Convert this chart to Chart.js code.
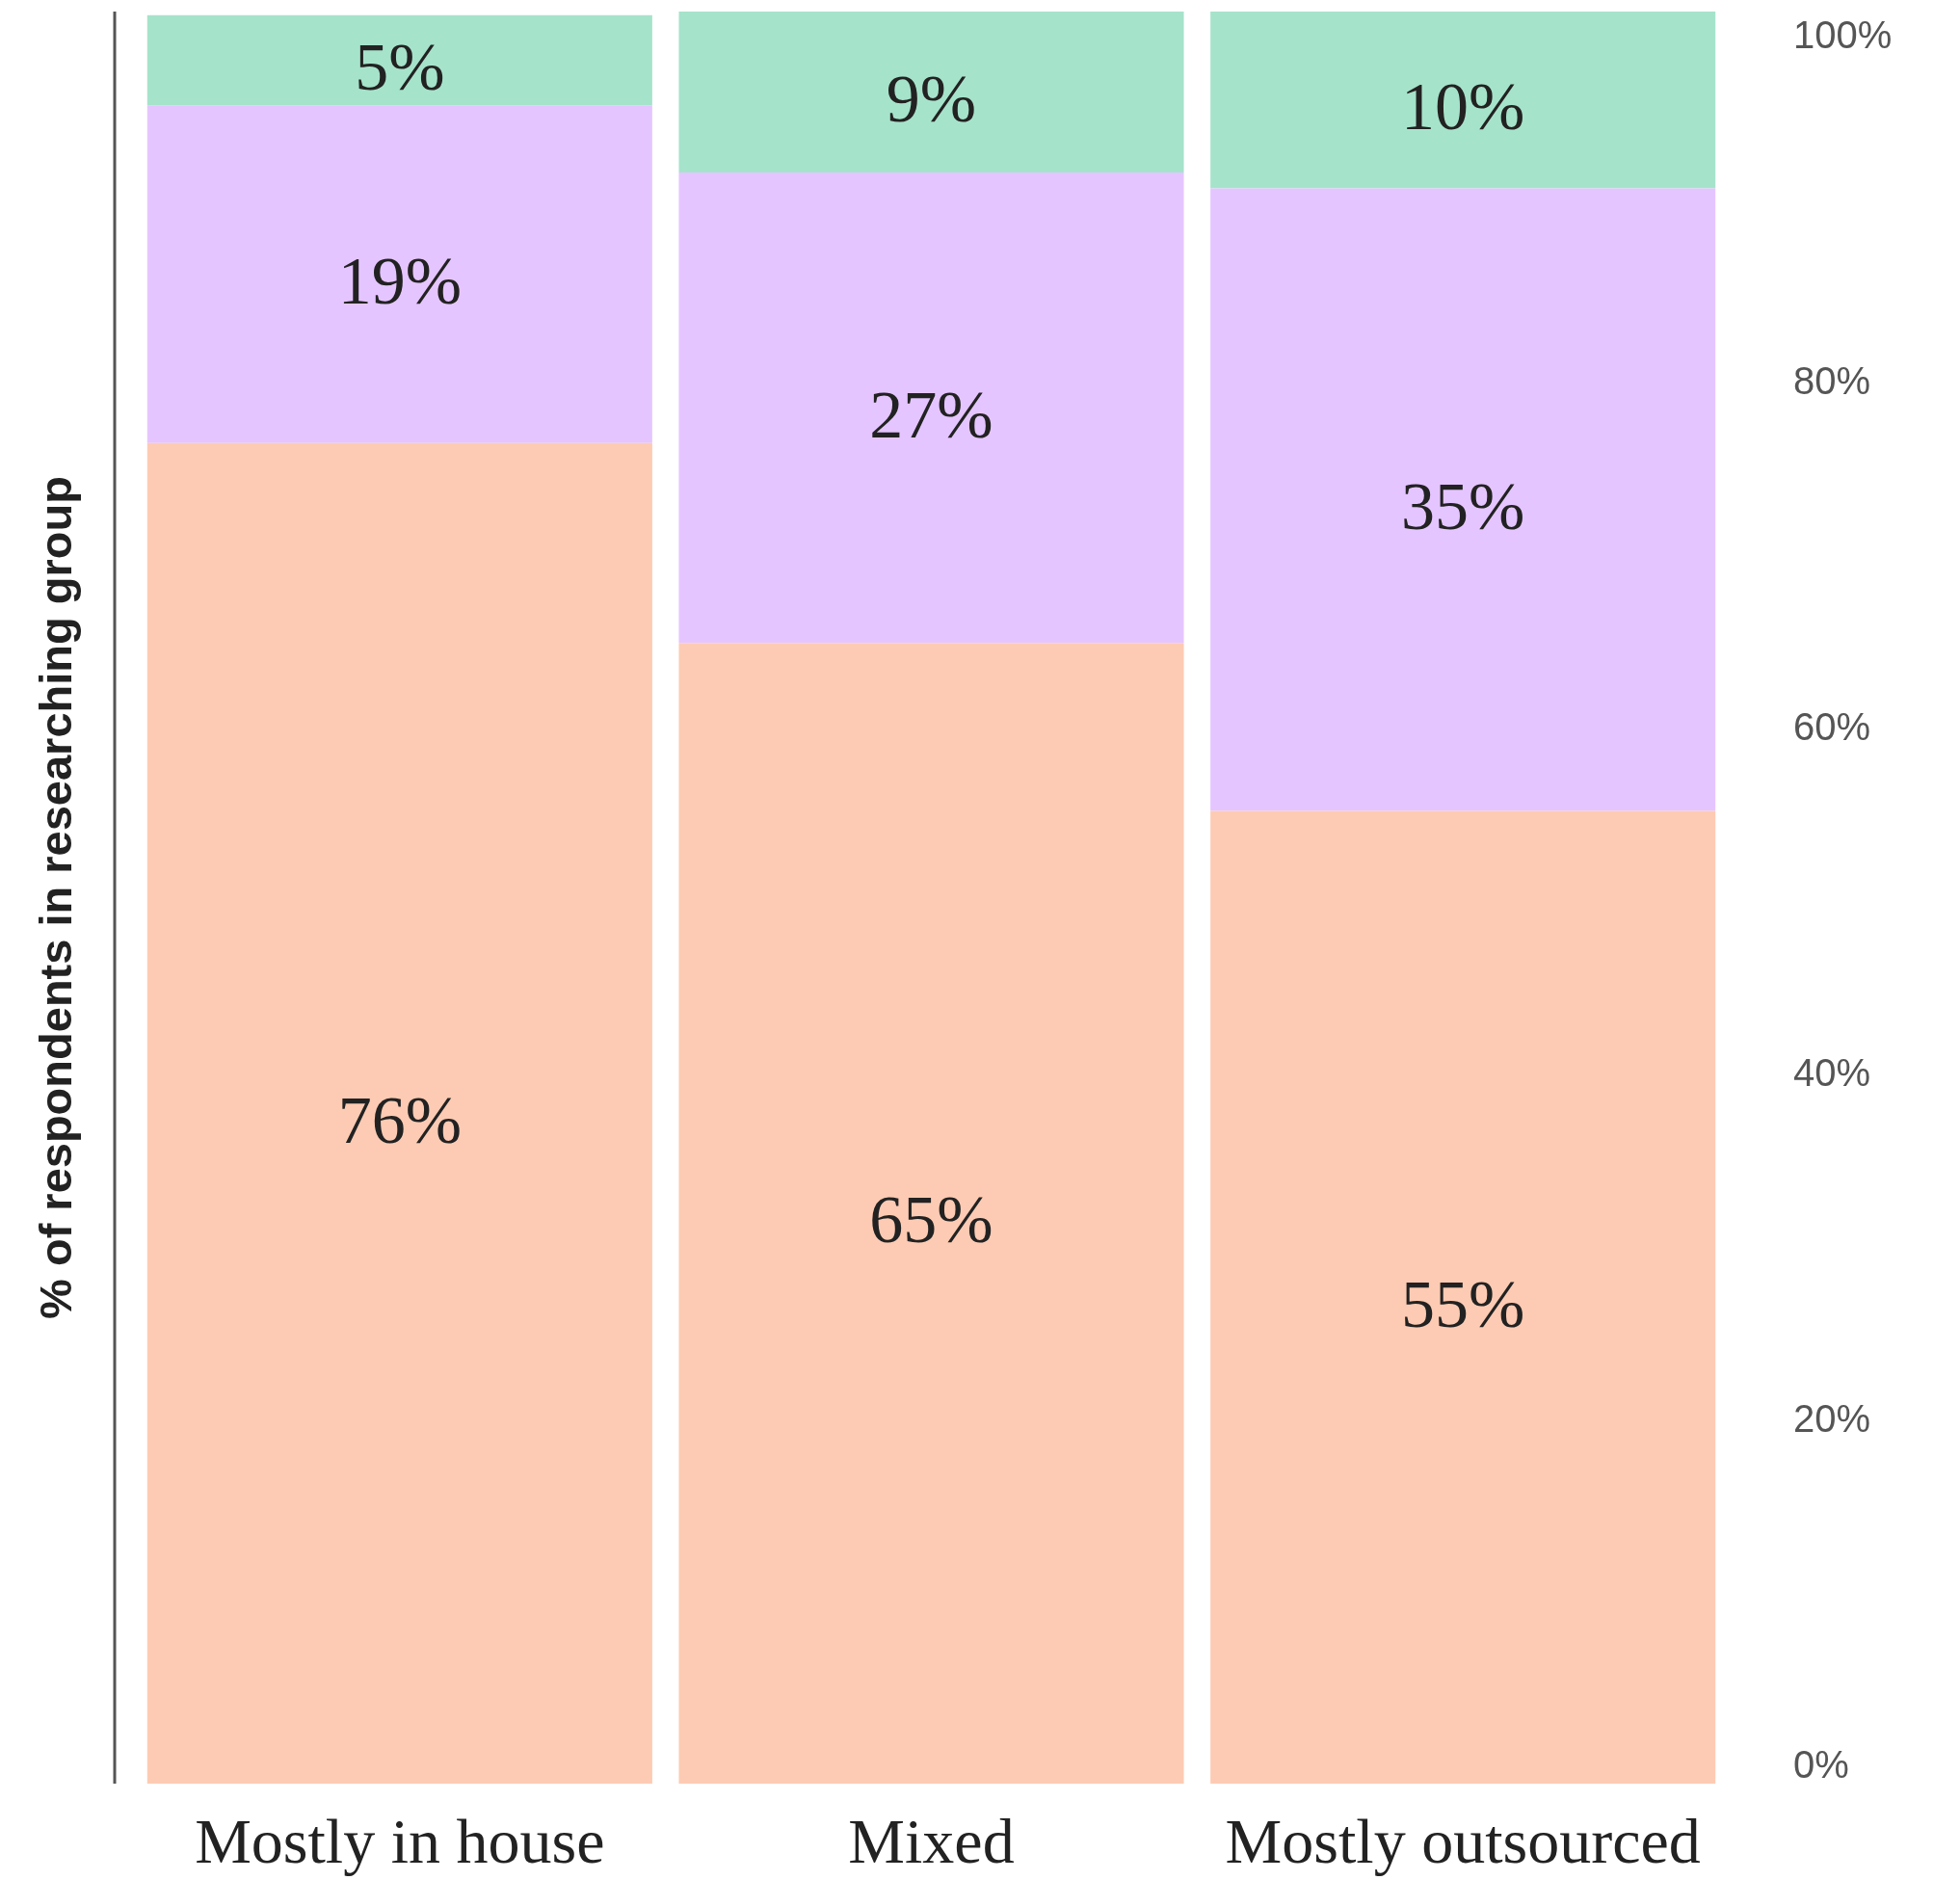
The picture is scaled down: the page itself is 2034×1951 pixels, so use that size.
<!DOCTYPE html>
<html>
<head>
<meta charset="utf-8">
<script src="https://cdn.jsdelivr.net/npm/chart.js@4/dist/chart.umd.min.js"></script>
<style>
  html, body { margin: 0; padding: 0; background: #fff; }
  #wrap { width: 2034px; height: 1951px; }
</style>
</head>
<body>
<div id="wrap"><canvas id="chart" width="2034" height="1951"></canvas></div>
<script>
// categories and stacked shares (% of respondents)
const categories = ['Mostly in house', 'Mixed', 'Mostly outsourced'];
const lowerShare = [75.8, 64.5, 55.0];
const middleShare = [19.1, 26.6, 35.2];
const upperShare = [5.1, 9.1, 10.0];
const tickValues = [0, 20, 40, 60, 80, 100];
const axisTitle = '% of respondents in researching group';

const SERIF = '"Liberation Serif", "DejaVu Serif", serif';
const SANS = '"Liberation Sans", Arial, sans-serif';

// draws the rounded value in the middle of each segment
const segmentLabels = {
  id: 'segmentLabels',
  afterDatasetsDraw(chart) {
    const ctx = chart.ctx;
    ctx.save();
    ctx.font = '70px ' + SERIF;
    ctx.fillStyle = '#222';
    ctx.textAlign = 'center';
    ctx.textBaseline = 'middle';
    chart.data.datasets.forEach((ds, i) => {
      chart.getDatasetMeta(i).data.forEach((bar, j) => {
        const y = (bar.y + bar.base) / 2 + 12;
        ctx.fillText(Math.round(ds.data[j]) + '%', bar.x, y);
      });
    });
    ctx.restore();
  },
};

// the thin vertical rule left of the first bar
const leftRule = {
  id: 'leftRule',
  beforeDatasetsDraw(chart) {
    const { ctx, chartArea } = chart;
    const x = chartArea.left - 20;
    ctx.save();
    ctx.strokeStyle = '#555';
    ctx.lineWidth = 3;
    ctx.beginPath();
    ctx.moveTo(x, chartArea.top);
    ctx.lineTo(x, chartArea.bottom);
    ctx.stroke();
    ctx.restore();
  },
};

const noPad = (s) => {
  s.paddingTop = 0;
  s.paddingBottom = 0;
  s.paddingLeft = 0;
  s.paddingRight = 0;
};

new Chart(document.getElementById('chart').getContext('2d'), {
  type: 'bar',
  data: {
    labels: categories,
    datasets: [
      { label: 'lower', data: lowerShare, backgroundColor: '#fdcbb3' },
      { label: 'middle', data: middleShare, backgroundColor: '#e5c5ff' },
      { label: 'upper', data: upperShare, backgroundColor: '#a6e3cb' },
    ],
  },
  options: {
    responsive: false,
    animation: false,
    devicePixelRatio: 1,
    layout: { padding: { top: 12, left: 0, right: 0, bottom: 0 } },
    datasets: {
      bar: { barPercentage: 0.95, categoryPercentage: 1, borderWidth: 0 },
    },
    plugins: {
      legend: { display: false },
      tooltip: { enabled: false },
    },
    scales: {
      x: {
        stacked: true,
        grid: { display: false, drawTicks: false },
        border: { display: false },
        ticks: {
          padding: 25,
          color: '#222',
          font: { family: SERIF, size: 66 },
          maxRotation: 0,
          autoSkip: false,
        },
        afterFit: (s) => { noPad(s); s.height = 100; },
      },
      y: {
        stacked: true,
        position: 'left',
        min: 0,
        max: 100.2,
        grid: { display: false, drawTicks: false },
        border: { display: false },
        ticks: { display: false },
        title: {
          display: true,
          text: axisTitle,
          color: '#222',
          font: { family: SANS, size: 47, weight: 'bold' },
          padding: { top: 33, bottom: 0 },
        },
        afterFit: (s) => { noPad(s); s.width = 139; },
      },
      yr: {
        position: 'right',
        min: -0.95,
        max: 101.5,
        grid: { display: false, drawTicks: false },
        border: { display: false },
        ticks: {
          padding: 67,
          color: '#555',
          font: { family: SANS, size: 40 },
          callback: (v) => v + '%',
        },
        afterBuildTicks: (s) => { s.ticks = tickValues.map((v) => ({ value: v })); },
        afterFit: (s) => { noPad(s); s.width = 240; },
      },
    },
  },
  plugins: [segmentLabels, leftRule],
});
</script>
</body>
</html>
